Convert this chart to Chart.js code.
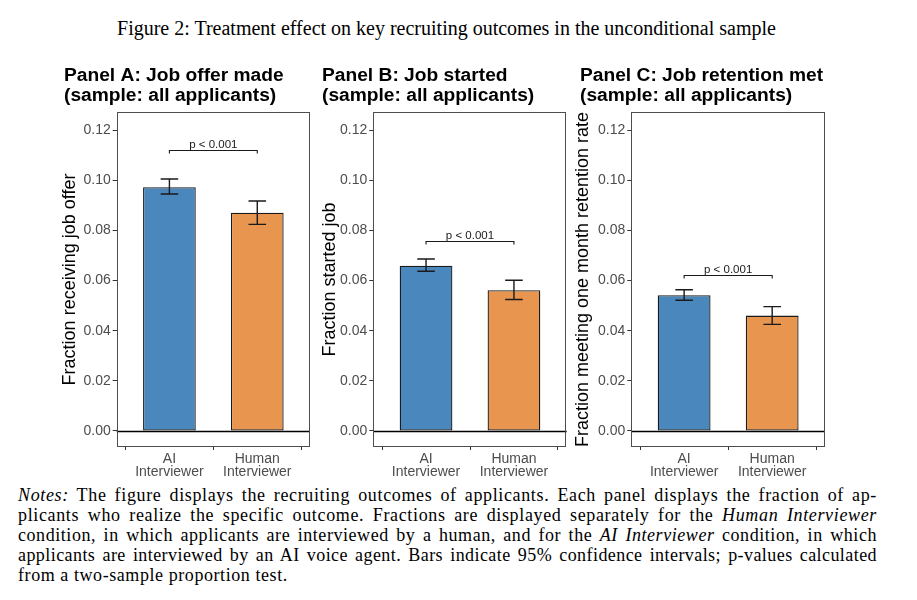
<!DOCTYPE html>
<html>
<head>
<meta charset="utf-8">
<title>Figure 2</title>
<style>
  body { margin: 0; background: #fff; width: 917px; height: 600px; position: relative; overflow: hidden; }
  #figTitle { position: absolute; left: 0; top: 17px; width: 893px; text-align: center; font-family: 'Liberation Serif', serif; font-size: 20px; line-height: 22px; color: #000; }
  canvas { position: absolute; top: 60px; }
  #notes { position: absolute; left: 18px; top: 484.5px; width: 859px; font-family: 'Liberation Serif', serif; font-size: 18px; line-height: 20px; color: #000; }
  #notes div { text-align: justify; text-align-last: justify; }
  #notes div.last { text-align-last: left; }
</style>
</head>
<body>
<div id="figTitle">Figure 2: Treatment effect on key recruiting outcomes in the unconditional sample</div>
<canvas id="panelA"></canvas>
<canvas id="panelB"></canvas>
<canvas id="panelC"></canvas>
<div id="notes">
  <div><i>Notes:</i> The figure displays the recruiting outcomes of applicants. Each panel displays the fraction of ap-</div>
  <div>plicants who realize the specific outcome. Fractions are displayed separately for the <i>Human Interviewer</i></div>
  <div>condition, in which applicants are interviewed by a human, and for the <i>AI Interviewer</i> condition, in which</div>
  <div>applicants are interviewed by an AI voice agent. Bars indicate 95% confidence intervals; p-values calculated</div>
  <div class="last">from a two-sample proportion test.</div>
</div>
<script src="https://cdn.jsdelivr.net/npm/chart.js@4.4.0/dist/chart.umd.min.js"></script>
<script>
// ---- data ----
const categories = ['AI Interviewer', 'Human Interviewer'];
const xTickLabels = [['AI', 'Interviewer'], ['Human', 'Interviewer']];
const yTicks = [0, 0.02, 0.04, 0.06, 0.08, 0.10, 0.12];

const offerRate = [0.0972, 0.0870];
const offerLow = [0.0945, 0.0824];
const offerHigh = [0.1005, 0.0917];

const startedRate = [0.0659, 0.0561];
const startedLow = [0.0637, 0.0524];
const startedHigh = [0.0686, 0.0601];

const retainedRate = [0.0541, 0.0460];
const retainedLow = [0.0521, 0.0425];
const retainedHigh = [0.0563, 0.0496];

const pValueLabel = 'p < 0.001';
const bracketHeights = [0.112, 0.0759, 0.0622];

// ---- styling ----
const SANS = "'Liberation Sans', Arial, sans-serif";
const BAR_COLORS = ['#4A87BC', '#E8954F'];
const Y_MIN = -0.0064;
const Y_MAX = 0.1272;

const PANELS = [
    { id: 'panelA', title: ['Panel A: Job offer made', '(sample: all applicants)'], yTitle: 'Fraction receiving job offer',
      values: offerRate, low: offerLow, high: offerHigh, bracket: bracketHeights[0],
      titleX: 64, yTitleX: 70, areaLeft: 116.7, areaRight: 310 },
    { id: 'panelB', title: ['Panel B: Job started', '(sample: all applicants)'], yTitle: 'Fraction started job',
      values: startedRate, low: startedLow, high: startedHigh, bracket: bracketHeights[1],
      titleX: 322, yTitleX: 330, areaLeft: 373.3, areaRight: 566.7 },
    { id: 'panelC', title: ['Panel C: Job retention met', '(sample: all applicants)'], yTitle: 'Fraction meeting one month retention rate',
      values: retainedRate, low: retainedLow, high: retainedHigh, bracket: bracketHeights[2],
      titleX: 580, yTitleX: 583, areaLeft: 631.3, areaRight: 825 },
];

// error bars, significance bracket, zero line and panel border
const errorBarPlugin = {
    id: 'errorBars',
    afterDatasetsDraw(chart, args, opts) {
        const { ctx, chartArea: a, scales: { x, y } } = chart;
        ctx.save();

        // zero line
        const y0 = Math.round(y.getPixelForValue(0)) + 0.5;
        ctx.strokeStyle = '#000';
        ctx.lineWidth = 1.3;
        ctx.beginPath();
        ctx.moveTo(a.left, y0);
        ctx.lineTo(a.right, y0);
        ctx.stroke();

        // 95% CI whiskers
        const hw = x.getPixelForValue(1 + opts.capWidth / 2) - x.getPixelForValue(1);
        ctx.strokeStyle = '#1a1a1a';
        ctx.lineWidth = 1.4;
        opts.low.forEach((lo, i) => {
            const cx = x.getPixelForValue(i + 1);
            const yl = y.getPixelForValue(lo);
            const yh = y.getPixelForValue(opts.high[i]);
            ctx.beginPath();
            ctx.moveTo(cx, yl); ctx.lineTo(cx, yh);
            ctx.moveTo(cx - hw, yh); ctx.lineTo(cx + hw, yh);
            ctx.moveTo(cx - hw, yl); ctx.lineTo(cx + hw, yl);
            ctx.stroke();
        });

        // bracket
        const x1 = x.getPixelForValue(1);
        const x2 = x.getPixelForValue(2);
        const yb = Math.round(y.getPixelForValue(opts.bracket)) + 0.5;
        const drop = 3;
        ctx.lineWidth = 1.1;
        ctx.beginPath();
        ctx.moveTo(x1, yb + drop); ctx.lineTo(x1, yb);
        ctx.lineTo(x2, yb); ctx.lineTo(x2, yb + drop);
        ctx.stroke();

        ctx.fillStyle = '#1a1a1a';
        ctx.font = '11.5px ' + SANS;
        ctx.textAlign = 'center';
        ctx.textBaseline = 'alphabetic';
        ctx.fillText(opts.label, (x1 + x2) / 2, yb - 3);

        // panel border
        ctx.strokeStyle = '#4d4d4d';
        ctx.lineWidth = 1;
        ctx.strokeRect(Math.round(a.left) + 0.5, Math.round(a.top) + 0.5, Math.round(a.width) - 1, Math.round(a.height) - 1);
        ctx.restore();
    }
};

function makeChart(p) {
    const canvas = document.getElementById(p.id);
    const left = p.titleX - 8;
    const width = Math.round(p.areaRight + 2 - left);
    canvas.width = width;
    canvas.height = 425;
    canvas.style.left = left + 'px';

    return new Chart(canvas, {
        type: 'bar',
        data: {
            labels: categories,
            datasets: [{
                data: p.values.map((v, i) => ({ x: i + 1, y: v })),
                backgroundColor: BAR_COLORS,
                borderColor: '#1a1a1a',
                borderWidth: 1.3,
                borderSkipped: false,
                categoryPercentage: 1,
                barPercentage: 0.6,
            }]
        },
        options: {
            responsive: false,
            animation: false,
            devicePixelRatio: 1,
            layout: { padding: { left: 8, right: width - (p.areaRight - left), top: 0, bottom: 0 } },
            plugins: {
                legend: { display: false },
                tooltip: { enabled: false },
                title: {
                    display: true,
                    text: p.title,
                    align: 'start',
                    color: '#000',
                    font: { family: SANS, size: 19.2, weight: 'bold', lineHeight: 20 / 19.2 },
                    padding: { top: 5.5, bottom: 6.5 },
                },
                errorBars: {
                    low: p.low,
                    high: p.high,
                    capWidth: 0.2,
                    bracket: p.bracket,
                    label: pValueLabel,
                },
            },
            scales: {
                x: {
                    type: 'linear',
                    min: 0.4,
                    max: 2.6,
                    offset: false,
                    border: { display: false },
                    grid: { display: true, drawOnChartArea: false, tickLength: 3, tickColor: '#333' },
                    ticks: {
                        color: '#4d4d4d',
                        font: { family: SANS, size: 14, lineHeight: 0.98 },
                        padding: 2,
                        maxRotation: 0,
                        callback: v => xTickLabels[v - 1],
                    },
                    afterBuildTicks: s => { s.ticks = [{ value: 1 }, { value: 2 }]; },
                    afterFit: s => { s.height = 38; },
                },
                y: {
                    min: Y_MIN,
                    max: Y_MAX,
                    border: { display: false },
                    grid: { display: true, drawOnChartArea: false, tickLength: 4, tickColor: '#333' },
                    ticks: {
                        color: '#4d4d4d',
                        font: { family: SANS, size: 14 },
                        padding: 2,
                        callback: v => v.toFixed(2),
                    },
                    afterBuildTicks: s => { s.ticks = yTicks.map(v => ({ value: v })); },
                    afterFit: s => { s.width = p.areaLeft - p.titleX; },
                    title: {
                        display: true,
                        text: p.yTitle,
                        color: '#000',
                        font: { family: SANS, size: 18, lineHeight: 1 },
                        padding: { top: p.yTitleX - p.titleX - 9, bottom: 0 },
                    },
                },
            },
        },
        plugins: [errorBarPlugin],
    });
}

PANELS.forEach(makeChart);

// spread the notes a little with letter spacing so justification gaps stay even
(function fitNotes() {
    const rows = Array.from(document.querySelectorAll('#notes div'));
    const full = 859;
    const spacings = [];
    rows.forEach(d => {
        if (d.classList.contains('last')) return;
        d.style.textAlignLast = 'left';
        const r = document.createRange();
        r.selectNodeContents(d);
        const w = r.getBoundingClientRect().width;
        const n = d.textContent.trim().length;
        const ls = Math.max(0, 0.6 * (full - w) / n);
        spacings.push(ls);
        d.style.letterSpacing = ls + 'px';
        d.style.textAlignLast = '';
    });
    const avg = spacings.reduce((s, v) => s + v, 0) / spacings.length;
    rows.filter(d => d.classList.contains('last')).forEach(d => { d.style.letterSpacing = avg + 'px'; });
})();
</script>
</body>
</html>
